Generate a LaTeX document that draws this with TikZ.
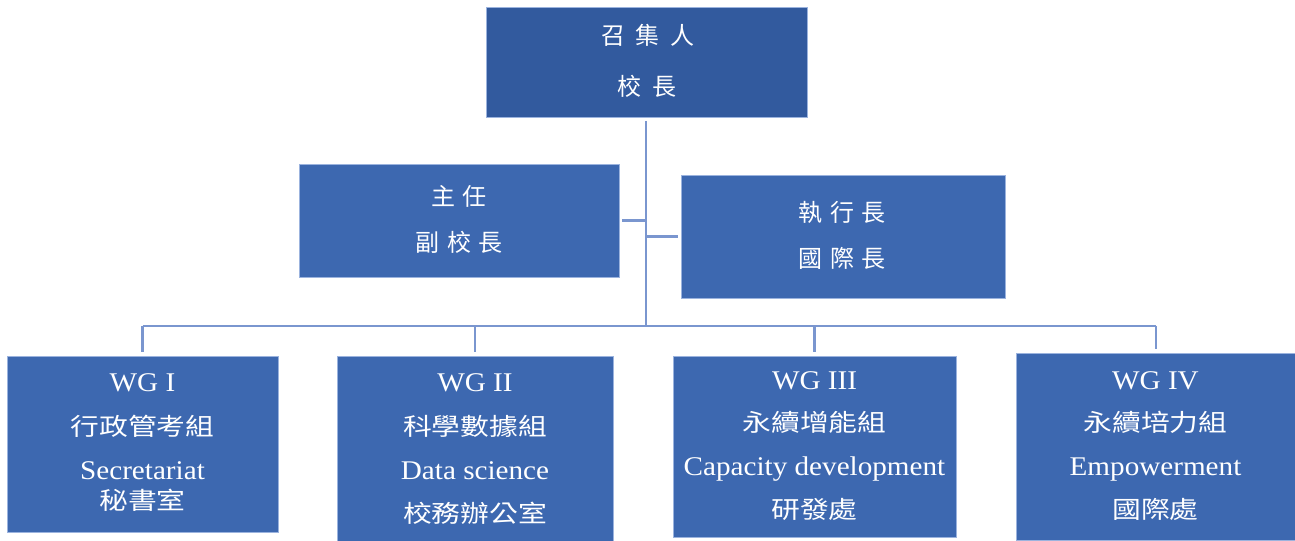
\documentclass[tikz,border=0pt]{standalone}
\usepackage{fontspec}
\setmainfont{Liberation Serif}[FakeStretch=1.08]
\newfontfamily\cjkW{Noto Sans CJK TC}[FakeStretch=1.2]
\newfontfamily\cjkS{Noto Sans CJK TC}
\definecolor{topblue}{HTML}{325A9E}
\definecolor{boxblue}{HTML}{3D68B0}
\definecolor{boxedge}{HTML}{9BB3DE}
\definecolor{linkblue}{HTML}{7A96CF}
\newcommand\gapA{\hspace{0.45em}}
\newcommand\gapB{\hspace{0.33em}}
\tikzset{
  orgbox/.style={draw=boxedge, line width=0.5pt, fill=boxblue, inner sep=0pt, rectangle},
  lat/.style={anchor=base, text=white, inner sep=0pt, font=\fontsize{20.25pt}{24pt}\selectfont},
  cjkw/.style={anchor=base, text=white, inner sep=0pt, font=\fontsize{18pt}{22pt}\selectfont\cjkW},
  cjks/.style={anchor=base, text=white, inner sep=0pt, font=\fontsize{18pt}{22pt}\selectfont\cjkS},
  link/.style={draw=linkblue, line width=2.2pt}
}
\begin{document}
\begin{tikzpicture}[x=0.75pt, y=-0.75pt]
\useasboundingbox (0,0) rectangle (1295,541);
% boxes
\node[orgbox, fill=topblue, minimum width=240.75pt, minimum height=82.5pt] (top) at (646.5,62) {};
\node[orgbox, minimum width=240pt, minimum height=84.75pt] (dir) at (459,220.5) {};
\node[orgbox, minimum width=243pt, minimum height=92.25pt] (exec) at (843,236.5) {};
\node[orgbox, minimum width=203.25pt, minimum height=132pt] (wg1) at (142.5,444) {};
\node[orgbox, minimum width=207pt, minimum height=139.5pt] (wg2) at (475,449) {};
\node[orgbox, minimum width=212.25pt, minimum height=135.75pt] (wg3) at (814.5,446.5) {};
\node[orgbox, minimum width=210pt, minimum height=140.25pt] (wg4) at (1156,446.5) {};
% texts
\node[cjks] (t1) at (648,45) {召\gapA 集\gapA 人};
\node[cjks] (t2) at (647,96) {校\gapA 長};
\node[cjks] (d1) at (459,206) {主\gapB 任};
\node[cjks] (d2) at (459,252) {副\gapB 校\gapB 長};
\node[cjks] (e1) at (842,222) {執\gapB 行\gapB 長};
\node[cjks] (e2) at (842,268) {國\gapB 際\gapB 長};
\node[lat]  (a1) at (142.5,392) {WG I};
\node[cjkw] (a2) at (142.5,435) {行政管考組};
\node[lat]  (a3) at (142.5,479) {Secretariat};
\node[cjkw] (a4) at (142.5,509) {秘書室};
\node[lat]  (b1) at (475,392) {WG II};
\node[cjkw] (b2) at (475,435) {科學數據組};
\node[lat]  (b3) at (475,479) {Data science};
\node[cjkw] (b4) at (475,522) {校務辦公室};
\node[lat]  (c1) at (814.5,389) {WG III};
\node[cjkw] (c2) at (814.5,431) {永續增能組};
\node[lat]  (c3) at (814.5,475) {Capacity development};
\node[cjkw] (c4) at (814.5,518) {研發處};
\node[lat]  (f1) at (1155.5,389) {WG IV};
\node[cjkw] (f2) at (1155.5,431) {永續培力組};
\node[lat]  (f3) at (1155.5,475) {Empowerment};
\node[cjkw] (f4) at (1155.5,518) {國際處};
% connectors
\coordinate (bus) at (646,326);
\coordinate (trunktop) at (646,121);
\draw[link] (trunktop) -- (bus);
\draw[link, shorten <=2.25pt] (dir.east) -- (dir.east -| bus);
\draw[link, shorten <=2.25pt] (exec.west) -- (exec.west -| bus);
\draw[link] (wg1.north |- bus) -- (wg4.north |- bus);
\draw[link, shorten >=3pt] (wg1.north |- bus) -- (wg1.north);
\draw[link, shorten >=3pt] (wg2.north |- bus) -- (wg2.north);
\draw[link, shorten >=3pt] (wg3.north |- bus) -- (wg3.north);
\draw[link, shorten >=3pt] (wg4.north |- bus) -- (wg4.north);
\end{tikzpicture}
\end{document}
